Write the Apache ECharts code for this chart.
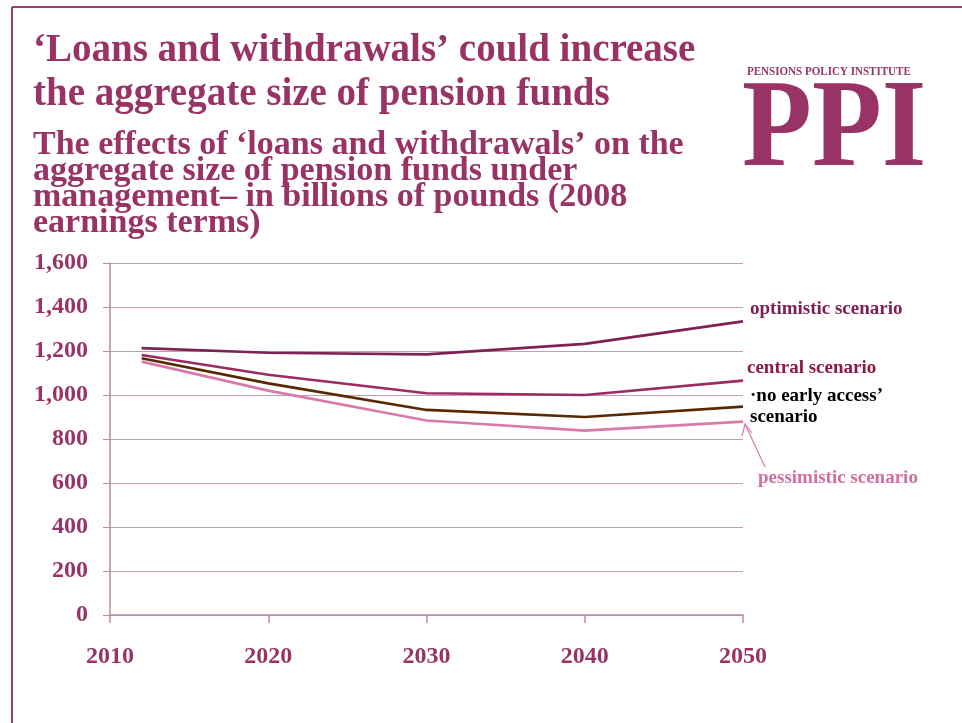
<!DOCTYPE html>
<html><head><meta charset="utf-8">
<script src="https://cdn.jsdelivr.net/npm/echarts@6/dist/echarts.min.js"></script>
<style>html,body{margin:0;padding:0;background:#fff}#c{width:962px;height:723px}</style>
</head><body><div id="c"></div>
<script>
const years = [2012, 2020, 2030, 2040, 2050];
const optimistic = [1213, 1192, 1185, 1232, 1335];
const central = [1182, 1092, 1008, 1000, 1065];
const noEarlyAccess = [1167, 1053, 932, 900, 947];
const pessimistic = [1152, 1020, 884, 838, 879];
const yTicks = [0, 200, 400, 600, 800, 1000, 1200, 1400, 1600];
const xTicks = [2010, 2020, 2030, 2040, 2050];

const serif = '"Liberation Serif", "DejaVu Serif", serif';
const purple = '#993366';
function pts(vals){ return years.map((y,i)=>[y, vals[i]]); }

const chart = echarts.init(document.getElementById('c'), null, {renderer:'canvas'});
chart.setOption({
  backgroundColor:'#fff',
  animation:false,
  grid:{left:110, right:219, top:263, bottom:108},
  xAxis:{type:'value', min:2010, max:2050, interval:10,
    axisLine:{lineStyle:{color:'#b58aa2', width:1.5}},
    axisTick:{show:true, length:8, lineStyle:{color:'#b58aa2', width:1.5}},
    splitLine:{show:false},
    axisLabel:{margin:30, color:purple, fontFamily:serif, fontWeight:'bold', fontSize:24,
      formatter:v=> xTicks.includes(v)? String(v):''}
  },
  yAxis:{type:'value', min:0, max:1600, interval:200,
    axisLine:{show:true, lineStyle:{color:'#b58aa2', width:1.5}},
    axisTick:{show:true, length:7, lineStyle:{color:'#b58aa2', width:1}},
    splitLine:{show:true, lineStyle:{color:'#c99bb2', width:1}},
    axisLabel:{margin:22, color:purple, fontFamily:serif, fontWeight:'bold', fontSize:24,
      formatter:v=> yTicks.includes(v)? v.toLocaleString('en-US'):''}
  },
  series:[
    {name:'optimistic', type:'line', data:pts(optimistic), symbol:'none', lineStyle:{color:'#7e2154', width:2.7}},
    {name:'central', type:'line', data:pts(central), symbol:'none', lineStyle:{color:'#9a2b63', width:2.7}},
    {name:'no early access', type:'line', data:pts(noEarlyAccess), symbol:'none', lineStyle:{color:'#5a2800', width:2.7}},
    {name:'pessimistic', type:'line', data:pts(pessimistic), symbol:'none', lineStyle:{color:'#d87aaa', width:2.7}}
  ],
  graphic:[
    {type:'line', shape:{x1:12,y1:7,x2:962,y2:7}, style:{stroke:'#a23a72', lineWidth:2}},
    {type:'line', shape:{x1:12,y1:7,x2:12,y2:723}, style:{stroke:'#a23a72', lineWidth:2}},
    {type:'text', left:33, top:29, style:{text:'‘Loans and withdrawals’ could increase\nthe aggregate size of pension funds', fill:purple, font:'bold 39px '+serif, lineHeight:44}},
    {type:'text', left:33, top:128, style:{text:'The effects of ‘loans and withdrawals’ on the\naggregate size of pension funds under\nmanagement– in billions of pounds (2008\nearnings terms)', fill:purple, font:'bold 34px '+serif, lineHeight:26}},
    {type:'text', x:747, y:66, style:{text:'PENSIONS POLICY INSTITUTE', fill:purple, font:'bold 12px '+serif}, scaleX:0.92},
    {type:'text', x:742, y:70, style:{text:'PPI', fill:purple, font:'bold 130px '+serif}, scaleX:0.88, scaleY:0.96},
    {type:'text', x:750, y:300, style:{text:'optimistic scenario', fill:'#7e2154', font:'bold 19px '+serif}},
    {type:'text', x:747, y:359, style:{text:'central scenario', fill:'#8b1a4a', font:'bold 19px '+serif}},
    {type:'text', x:750, y:386, style:{text:'·no early access’\nscenario', fill:'#000', font:'bold 19px '+serif, lineHeight:21}},
    {type:'text', x:758, y:469, style:{text:'pessimistic scenario', fill:'#d070a0', font:'bold 19px '+serif}},
    {type:'line', shape:{x1:765,y1:467,x2:745,y2:424}, style:{stroke:'#d87aaa', lineWidth:1.2}},
    {type:'polyline', shape:{points:[[742,436],[745,424],[752,433]]}, style:{stroke:'#d87aaa', lineWidth:1.2, fill:null}}
  ]
});
</script></body></html>
